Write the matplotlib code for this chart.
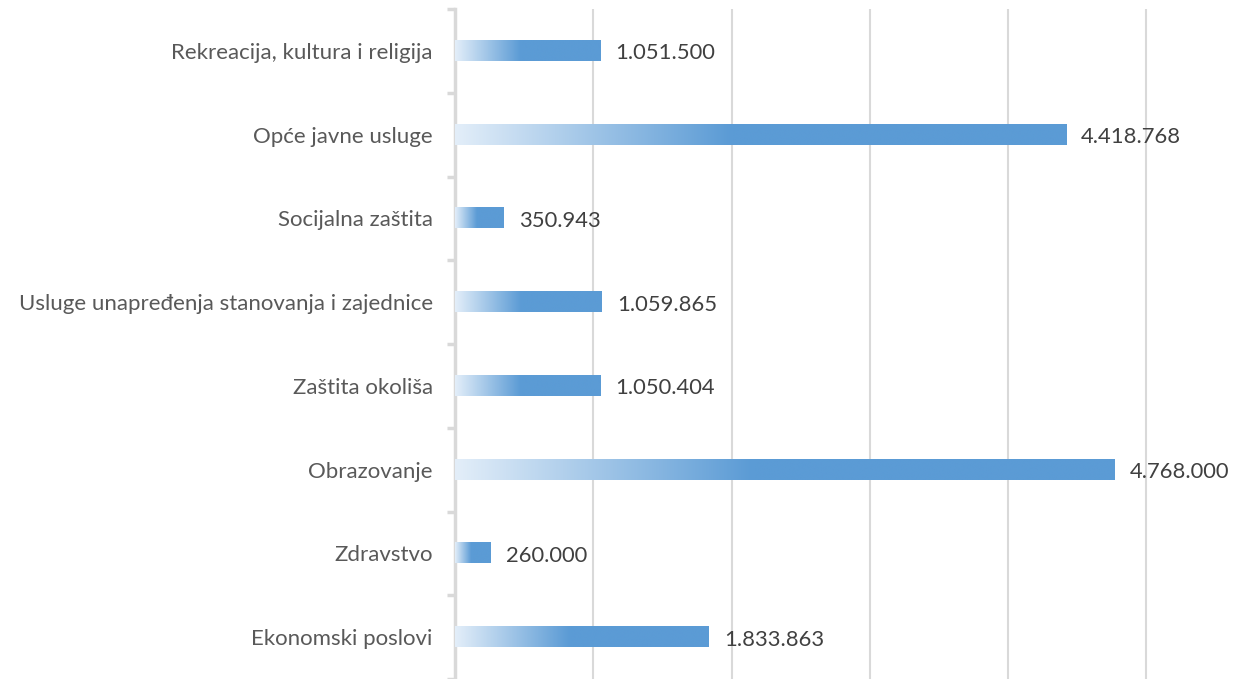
import numpy as np
import matplotlib.pyplot as plt
from matplotlib.colors import LinearSegmentedColormap

categories = ['Ekonomski poslovi', 'Zdravstvo', 'Obrazovanje', 'Zaštita okoliša',
              'Usluge unapređenja stanovanja i zajednice', 'Socijalna zaštita',
              'Opće javne usluge', 'Rekreacija, kultura i religija']
values = [1833863, 260000, 4768000, 1050404, 1059865, 350943, 4418768, 1051500]

def fmt(v):
    return '{:,}'.format(v).replace(',', '.')

plt.rcParams['font.family'] = ['Lato', 'DejaVu Sans']

fig = plt.figure(figsize=(12.34, 6.79), dpi=100)
ax = fig.add_axes([455 / 1234, 0.0, 1 - 455 / 1234, 1 - 9 / 679])

blue = '#5b9bd5'
cmap = LinearSegmentedColormap.from_list('g', [(0, '#e3eef9'), (0.45, blue), (1, blue)])
grad = np.linspace(0, 1, 256).reshape(1, -1)
h = 0.24

y = np.arange(len(categories))
bars = ax.barh(y, values, height=h, color='none', edgecolor='none')
for b, v in zip(bars, values):
    x0, y0 = b.get_x(), b.get_y()
    ax.imshow(grad, cmap=cmap, aspect='auto', extent=(x0, x0 + b.get_width(), y0, y0 + b.get_height()),
              zorder=3, interpolation='bicubic')
    ax.text(v + 110000, y0 + h / 2 - 0.03, fmt(v), va='center', ha='left', fontsize=15.8, color='#404040')

ax.set_xlim(0, 5633000)
ax.set_ylim(-0.5, len(categories) - 0.5)
ax.set_xticks([1e6, 2e6, 3e6, 4e6, 5e6])
ax.xaxis.grid(True, color='#d9d9d9', linewidth=1.5)
ax.set_axisbelow(True)
ax.tick_params(axis='x', length=0, labelbottom=False)

ax.set_yticks(y)
ax.set_yticklabels(categories, fontsize=16, color='#595959')
ax.tick_params(axis='y', which='major', length=0, pad=16)
ax.set_yticks(np.arange(-0.5, len(categories), 1), minor=True)
ax.tick_params(axis='y', which='minor', length=6, width=2.5, color='#d9d9d9', direction='out')

for s in ['top', 'right', 'bottom']:
    ax.spines[s].set_visible(False)
ax.spines['left'].set_color('#d9d9d9')
ax.spines['left'].set_linewidth(2.5)

fig.savefig('out.png', dpi=100)
